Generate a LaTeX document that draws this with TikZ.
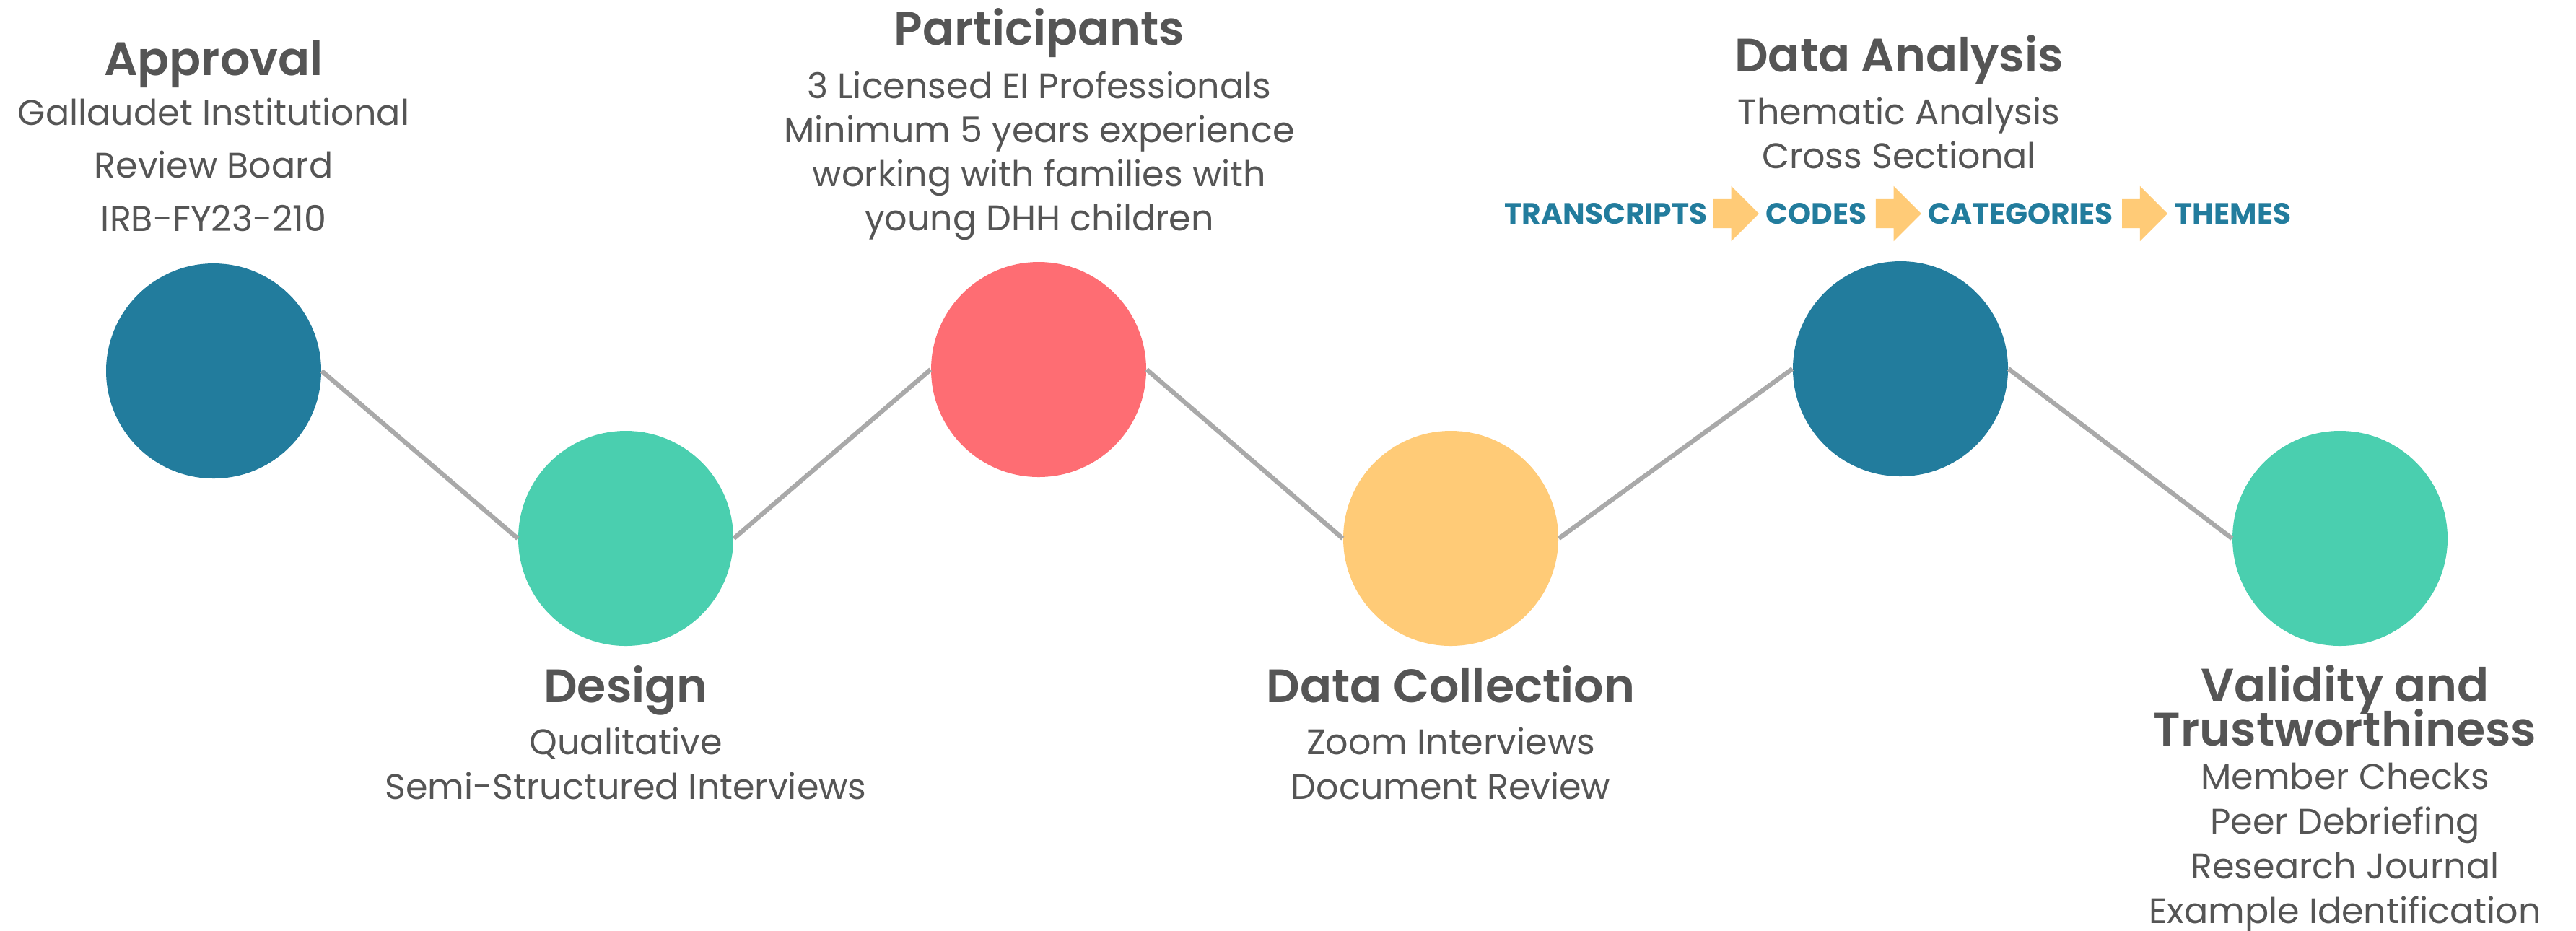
\documentclass[tikz,border=0pt]{standalone}
\usepackage{fontspec}
\setmainfont{Poppins}[BoldFont={Poppins SemiBold}]
\newfontfamily\stepfont{Poppins Bold}
\usetikzlibrary{positioning,shapes.arrows}

\definecolor{tealblue}{HTML}{227C9D}
\definecolor{mint}{HTML}{4ACFAF}
\definecolor{coral}{HTML}{FE6D73}
\definecolor{sand}{HTML}{FFCB77}
\definecolor{linegray}{HTML}{A9A9A9}
\definecolor{txtgray}{HTML}{555555}

\begin{document}
\begin{tikzpicture}
	\tikzstyle{cir_block} = [circle, inner sep=0, minimum size=2.98cm];
	\tikzstyle{title_txt} = [text=txtgray, font=\fontsize{18.5}{22}\selectfont\bfseries, anchor=base, inner sep=0];
	\tikzstyle{body_txt} = [text=txtgray, font=\fontsize{14}{17}\selectfont, anchor=base, inner sep=0];
	\tikzstyle{step_txt} = [text=tealblue, font=\fontsize{11.6}{14}\selectfont\stepfont, inner sep=0];
	\tikzstyle{step_arrow} = [single arrow, fill=sand, inner xsep=0, inner ysep=0.195cm, minimum height=0.63cm, minimum width=0.75cm, single arrow head extend=0.18cm];
	\tikzstyle{link_line} = [draw=linegray, line width=1.8pt];

	\fill[white] (0,0) rectangle (35.69,-12.89);
	\useasboundingbox (0,0) rectangle (35.69,-12.89);

	% the six stages
	\node[cir_block, fill=tealblue] (app) at (2.96,-5.14) {};
	\node[cir_block, fill=mint] (des) at (8.67,-7.46) {};
	\node[cir_block, fill=coral] (par) at (14.39,-5.12) {};
	\node[cir_block, fill=sand] (col) at (20.10,-7.46) {};
	\node[cir_block, fill=tealblue] (ana) at (26.33,-5.11) {};
	\node[cir_block, fill=mint] (val) at (32.42,-7.46) {};

	\foreach \a/\b in {app/des, des/par, par/col, col/ana, ana/val}{%
		\draw[link_line] (\a.east) -- (\b.west);
	}

	% Approval
	\node[title_txt] (app_t) at (2.96,-1.04) {Approval};
	\foreach \txt [count=\i] in {Gallaudet Institutional, Review Board, IRB-FY23-210}{%
		\node[body_txt] (app-\i) at (2.96,{-1.73-0.735*(\i-1)}) {\txt};
	}

	% Design
	\node[title_txt] (des_t) at (8.67,-9.73) {Design};
	\foreach \txt [count=\i] in {Qualitative, Semi-Structured Interviews}{%
		\node[body_txt] (des-\i) at (8.67,{-10.45-0.62*(\i-1)}) {\txt};
	}

	% Participants
	\node[title_txt] (par_t) at (14.40,-0.62) {Participants};
	\foreach \txt [count=\i] in {3 Licensed EI Professionals, Minimum 5 years experience, working with families with, young DHH children}{%
		\node[body_txt] (par-\i) at (14.40,{-1.36-0.613*(\i-1)}) {\txt};
	}

	% Data Collection
	\node[title_txt] (col_t) at (20.10,-9.73) {Data Collection};
	\foreach \txt [count=\i] in {Zoom Interviews, Document Review}{%
		\node[body_txt] (col-\i) at (20.10,{-10.45-0.62*(\i-1)}) {\txt};
	}

	% Data Analysis
	\node[title_txt] (ana_t) at (26.31,-0.99) {Data Analysis};
	\foreach \txt [count=\i] in {Thematic Analysis, Cross Sectional}{%
		\node[body_txt] (ana-\i) at (26.31,{-1.72-0.61*(\i-1)}) {\txt};
	}

	\node[step_txt] (trn) at (22.25,-2.96) {TRANSCRIPTS};
	\node[step_arrow, right=0.07cm of trn] (arr1) {};
	\node[step_txt, right=0.08cm of arr1] (cod) {CODES};
	\node[step_arrow, right=0.11cm of cod] (arr2) {};
	\node[step_txt, right=0.08cm of arr2] (cat) {CATEGORIES};
	\node[step_arrow, right=0.11cm of cat] (arr3) {};
	\node[step_txt, right=0.09cm of arr3] (thm) {THEMES};

	% Validity and Trustworthiness
	\node[title_txt] (val_t1) at (32.49,-9.72) {Validity and};
	\node[title_txt] (val_t2) at (32.49,-10.33) {Trustworthiness};
	\foreach \txt [count=\i] in {Member Checks, Peer Debriefing, Research Journal, Example Identification}{%
		\node[body_txt] (val-\i) at (32.49,{-10.93-0.62*(\i-1)}) {\txt};
	}
\end{tikzpicture}
\end{document}
